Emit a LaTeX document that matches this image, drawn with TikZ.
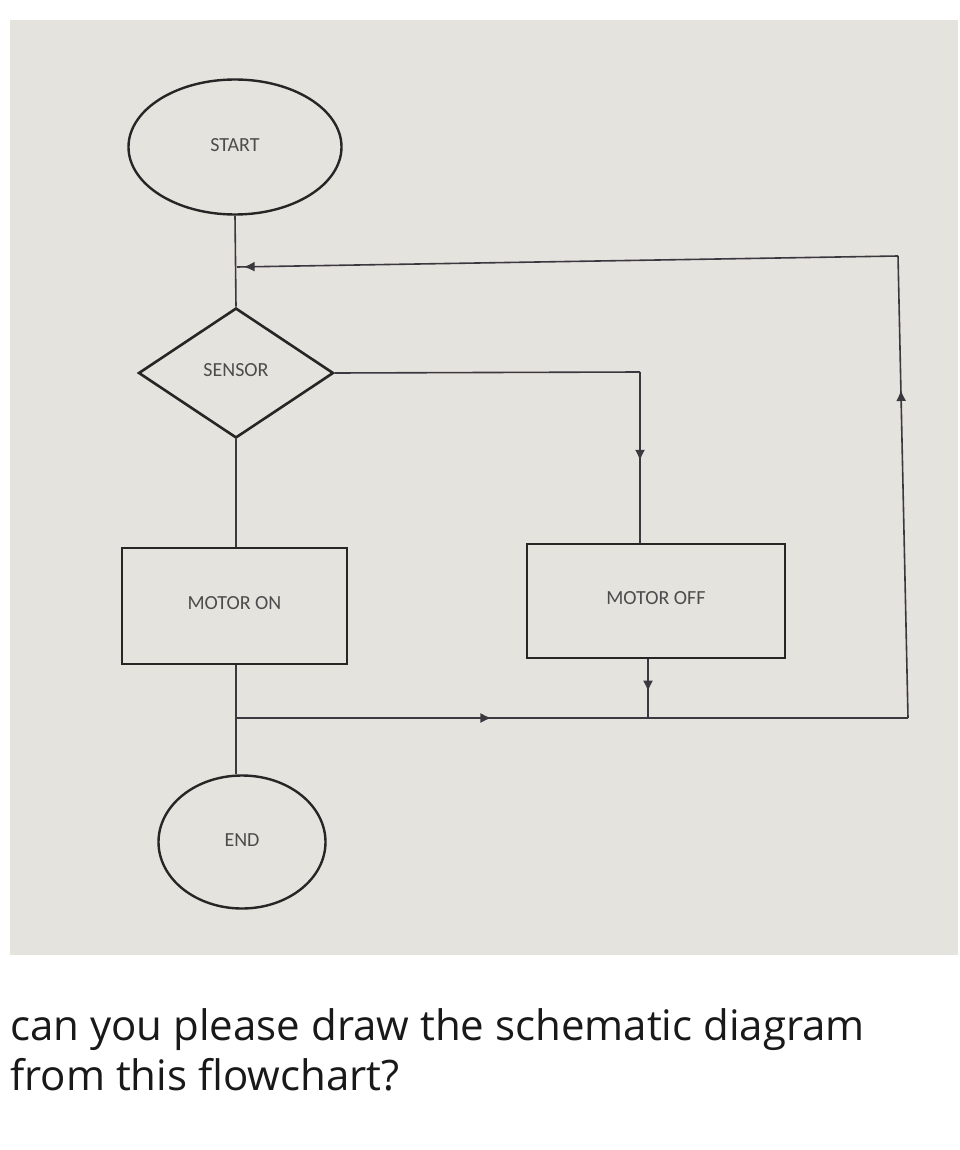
\documentclass[tikz,border=0pt]{standalone}
\usepackage{fontspec}
\setmainfont{Carlito}
\newfontfamily\askfont{Open Sans}
\usetikzlibrary{arrows.meta, positioning, shapes.geometric, decorations.markings}
\definecolor{paper}{RGB}{229,227,221}
\definecolor{ink}{RGB}{60,56,64}

\begin{document}
\begin{tikzpicture}[x=1pt, y=-1pt, >={Latex[length=11pt,width=10pt]},
  term/.style={draw=black!85, ellipse, line width=2.4pt, inner sep=0pt, font=\fontsize{20}{22}\selectfont, text=black!70},
  decide/.style={draw=black!85, diamond, line width=2.6pt, inner sep=0pt, minimum width=195pt, minimum height=130pt, font=\fontsize{20}{22}\selectfont, text=black!70},
  proc/.style={draw=black!85, line width=2.6pt, inner sep=0pt, font=\fontsize{20}{22}\selectfont, text=black!70},
  flow/.style={draw=ink, line width=1.6pt},
  midarrow/.style={postaction={decorate}, decoration={markings, mark=at position #1 with {\arrow{>}}}},
  ask/.style={anchor=base west, inner sep=0pt, font=\askfont\fontsize{42}{50}\selectfont, text=black!90}]
  \useasboundingbox (0,0) rectangle (960,1150);
  \fill[white] (0,0) rectangle (960,1150);
  \fill[paper] (10,20) rectangle (958,955);

  % flowchart
  \node[term, minimum width=213pt, minimum height=135pt] (start) at (235,147) {\raisebox{4pt}{START}};
  \node[decide] (sensor) at (236,373) {\raisebox{5pt}{SENSOR}};
  \node[proc, minimum width=225pt, minimum height=116pt] (on) at (234.5,606) {\raisebox{5pt}{MOTOR ON}};
  \node[proc, minimum width=258pt, minimum height=114pt] (off) at (656,601) {\raisebox{5pt}{MOTOR OFF}};
  \node[term, minimum width=167pt, minimum height=133pt] (end) at (242,842) {\raisebox{4pt}{END}};

  \coordinate (loop) at (237,267);
  \coordinate (tr) at (898,256);
  \coordinate (br) at (908,718);
  \coordinate (bend) at (640,372);
  \coordinate (join) at (236,718);
  \coordinate (offjoin) at (648,718);

  \draw[flow] (start.south) -- (sensor.north);
  \draw[flow, midarrow=0.99] (tr) -- (loop);
  \draw[flow] (sensor.east) -- (bend);
  \draw[flow, midarrow=0.52] (bend) -- (bend |- off.north);
  \draw[flow] (sensor.south) -- (sensor.south |- on.north);
  \draw[flow] (on.south -| join) -- (join |- end.north);
  \draw[flow, midarrow=0.55] (off.south -| offjoin) -- (offjoin);
  \draw[flow, midarrow=0.38] (join) -- (br);
  \draw[flow, midarrow=0.71] (br) -- (tr);

  % question text
  \node[ask] (ask1) at (10,1040) {can you please draw the schematic diagram};
  \node[ask] (ask2) at (10,1090) {from this flowchart?};
\end{tikzpicture}
\end{document}
